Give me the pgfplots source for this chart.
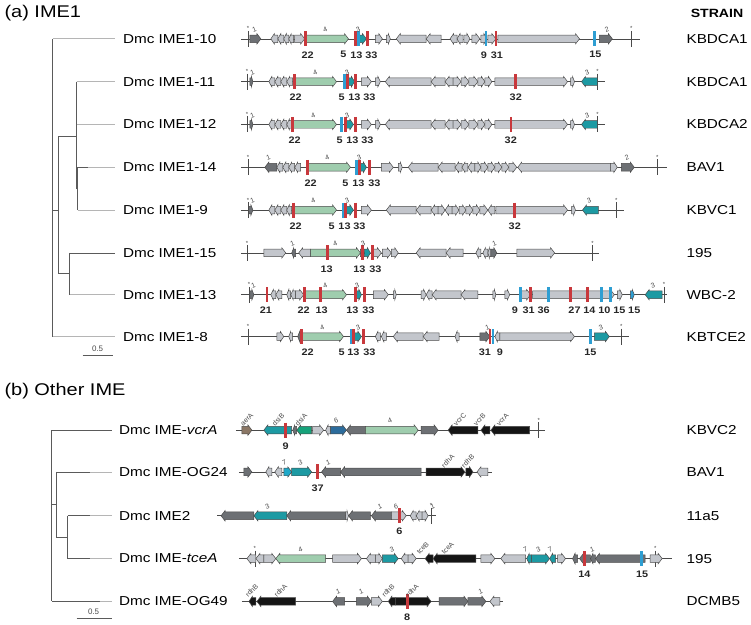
\documentclass[border=0pt]{standalone}
\usepackage{graphicx}
\usepackage{pgfplots}
\pgfplotsset{compat=1.18}
\usepackage{fontspec}
\setmainfont{Liberation Sans}
\definecolor{lg}{HTML}{C3C6CC}
\definecolor{dg}{HTML}{6D7074}
\definecolor{gr}{HTML}{9FCDAE}
\definecolor{tl}{HTML}{1D9AA3}
\definecolor{rb}{HTML}{C8383C}
\definecolor{bb}{HTML}{2E9ED2}
\definecolor{bk}{HTML}{151515}
\definecolor{br}{HTML}{8B7765}
\definecolor{ds}{HTML}{16A27A}
\definecolor{bsix}{HTML}{2C6C9C}
\definecolor{cs}{HTML}{1FA8C8}
\definecolor{ol}{HTML}{4A4A4A}
\definecolor{trd}{HTML}{5A5A5A}
\definecolor{trl}{HTML}{B5B5B5}
\newcommand\sx[1]{\scalebox{1.18}[1]{#1}}
% gene arrows: x1 x2 y colour
\newcommand{\gR}[4]{%
  \pgfmathsetmacro\xa{#1}\pgfmathsetmacro\xb{#2}%
  \pgfmathsetmacro\xh{#2-min(4,(#2-#1)*0.5)}%
  \pgfmathsetmacro\ya{#3-3.8}\pgfmathsetmacro\yb{#3+3.8}%
  \pgfmathsetmacro\yc{#3-5.2}\pgfmathsetmacro\yd{#3+5.2}%
  \edef\gtmp{\noexpand\addplot[fill=#4,draw=ol,line width=0.5pt] coordinates {(\xa,\ya)(\xh,\ya)(\xh,\yc)(\xb,#3)(\xh,\yd)(\xh,\yb)(\xa,\yb)} --cycle;}\gtmp}
\newcommand{\gL}[4]{%
  \pgfmathsetmacro\xa{#1}\pgfmathsetmacro\xb{#2}%
  \pgfmathsetmacro\xh{#1+min(4,(#2-#1)*0.5)}%
  \pgfmathsetmacro\ya{#3-3.8}\pgfmathsetmacro\yb{#3+3.8}%
  \pgfmathsetmacro\yc{#3-5.2}\pgfmathsetmacro\yd{#3+5.2}%
  \edef\gtmp{\noexpand\addplot[fill=#4,draw=ol,line width=0.5pt] coordinates {(\xb,\ya)(\xh,\ya)(\xh,\yc)(\xa,#3)(\xh,\yd)(\xh,\yb)(\xb,\yb)} --cycle;}\gtmp}
% bars: x y colour
\newcommand{\vb}[3]{%
  \pgfmathsetmacro\ya{#2-7.5}\pgfmathsetmacro\yb{#2+7.5}%
  \edef\gtmp{\noexpand\addplot[draw=#3,line width=2.6pt] coordinates {(#1,\ya)(#1,\yb)};}\gtmp}
% backbone
\newcommand{\bl}[3]{\addplot[draw=ol,line width=0.6pt] coordinates {(#1,#3)(#2,#3)};}
% end ticks with asterisk
\newcommand{\tk}[2]{%
  \pgfmathsetmacro\ya{#2-8}\pgfmathsetmacro\yb{#2+8}%
  \edef\gtmp{\noexpand\addplot[draw=ol,line width=0.5pt] coordinates {(#1,\ya)(#1,\yb)};}\gtmp
  \node[font=\fontsize{6}{6}\selectfont,text=ol,yshift=10pt,inner sep=0pt] at (axis cs:#1,#2) {*};}
% number labels below bars
\newcommand{\nl}[3]{\node[font=\fontsize{9.5}{11}\selectfont\bfseries,text=black!85,yshift=-16pt,inner sep=0pt] at (axis cs:#1,#2) {\scalebox{1.15}[1]{#3}};}
% small gene labels above
\newcommand{\gl}[3]{\node[font=\fontsize{7}{8}\selectfont,text=ol,rotate=20,yshift=10pt,inner sep=0pt] at (axis cs:#1,#2) {#3};}
\newcommand{\gn}[3]{\node[font=\fontsize{7}{8}\selectfont,text=ol,rotate=45,anchor=south west,yshift=5pt,inner sep=0pt] at (axis cs:#1,#2) {#3};}
% tree branch
\newcommand{\tb}[5]{\addplot[draw=#5,line width=0.7pt] coordinates {(#1,#2)(#3,#4)};}
\begin{document}
\begin{tikzpicture}
\begin{axis}[width=751pt,height=627pt,scale only axis,xmin=0,xmax=751,ymin=0,ymax=627,
  y dir=reverse,hide axis,clip=false]
\addplot[draw=none] coordinates {(0,0)(751,627)};
% ---------------- titles
\node[anchor=west,font=\fontsize{17}{20}\selectfont] at (axis cs:1,13) {\sx{(a) IME1}};
\node[anchor=west,font=\fontsize{17}{20}\selectfont] at (axis cs:1,393) {\sx{(b) Other IME}};
\node[anchor=east,font=\fontsize{12}{14}\selectfont\bfseries] at (axis cs:750,13) {\sx{STRAIN}};
% ---------------- tree (a)
\tb{53}{39}{53}{338}{trd}
\tb{53}{39}{115}{39}{trl}
\tb{53}{211}{59}{211}{trd}
\tb{59}{137}{59}{275}{trd}
\tb{59}{137}{77}{137}{trd}
\tb{77}{82}{77}{190}{trd}
\tb{77}{190}{78}{190}{trd}
\tb{78}{168}{78}{211}{trd}
\tb{77}{82}{115}{82}{trl}
\tb{77}{125}{115}{125}{trl}
\tb{78}{168}{88}{168}{trd}
\tb{88}{168}{115}{168}{trl}
\tb{78}{211}{115}{211}{trl}
\tb{59}{275}{70}{275}{trd}
\tb{70}{254}{70}{296}{trd}
\tb{70}{254}{115}{254}{trd}
\tb{70}{296}{115}{296}{trl}
\tb{53}{338}{115}{338}{trl}
\tb{83}{357}{113}{357}{trd}
\node[font=\fontsize{8}{9}\selectfont,text=ol] at (axis cs:98,350) {0.5};
% ---------------- tree (b)
\tb{52}{432}{52}{604}{trd}
\tb{52}{432}{112}{432}{trd}
\tb{52}{507}{57}{507}{trd}
\tb{57}{474}{57}{540}{trd}
\tb{57}{474}{90}{474}{trd}
\tb{90}{474}{112}{474}{trl}
\tb{57}{540}{68}{540}{trd}
\tb{68}{518}{68}{561}{trd}
\tb{68}{518}{90}{518}{trd}
\tb{90}{518}{112}{518}{trl}
\tb{68}{561}{90}{561}{trd}
\tb{90}{561}{112}{561}{trl}
\tb{52}{604}{100}{604}{trd}
\tb{100}{604}{112}{604}{trl}
\tb{77}{621}{112}{621}{trd}
\node[font=\fontsize{8}{9}\selectfont,text=ol] at (axis cs:94,614) {0.5};
% ---------------- tip labels (a)
\node[anchor=west,font=\fontsize{13}{15}\selectfont] at (axis cs:120,39) {\sx{Dmc IME1-10}};
\node[anchor=west,font=\fontsize{13}{15}\selectfont] at (axis cs:120,82) {\sx{Dmc IME1-11}};
\node[anchor=west,font=\fontsize{13}{15}\selectfont] at (axis cs:120,125) {\sx{Dmc IME1-12}};
\node[anchor=west,font=\fontsize{13}{15}\selectfont] at (axis cs:120,168) {\sx{Dmc IME1-14}};
\node[anchor=west,font=\fontsize{13}{15}\selectfont] at (axis cs:120,211) {\sx{Dmc IME1-9}};
\node[anchor=west,font=\fontsize{13}{15}\selectfont] at (axis cs:120,254) {\sx{Dmc IME1-15}};
\node[anchor=west,font=\fontsize{13}{15}\selectfont] at (axis cs:120,296) {\sx{Dmc IME1-13}};
\node[anchor=west,font=\fontsize{13}{15}\selectfont] at (axis cs:120,338) {\sx{Dmc IME1-8}};
% tip labels (b)
\node[anchor=west,font=\fontsize{13}{15}\selectfont] at (axis cs:116,432) {\sx{Dmc IME-\textit{vcrA}}};
\node[anchor=west,font=\fontsize{13}{15}\selectfont] at (axis cs:116,474) {\sx{Dmc IME-OG24}};
\node[anchor=west,font=\fontsize{13}{15}\selectfont] at (axis cs:116,518) {\sx{Dmc IME2}};
\node[anchor=west,font=\fontsize{13}{15}\selectfont] at (axis cs:116,561) {\sx{Dmc IME-\textit{tceA}}};
\node[anchor=west,font=\fontsize{13}{15}\selectfont] at (axis cs:116,604) {\sx{Dmc IME-OG49}};
% strains
\node[anchor=west,font=\fontsize{13}{15}\selectfont] at (axis cs:686,39) {\sx{KBDCA1}};
\node[anchor=west,font=\fontsize{13}{15}\selectfont] at (axis cs:686,82) {\sx{KBDCA1}};
\node[anchor=west,font=\fontsize{13}{15}\selectfont] at (axis cs:686,125) {\sx{KBDCA2}};
\node[anchor=west,font=\fontsize{13}{15}\selectfont] at (axis cs:686,168) {\sx{BAV1}};
\node[anchor=west,font=\fontsize{13}{15}\selectfont] at (axis cs:686,211) {\sx{KBVC1}};
\node[anchor=west,font=\fontsize{13}{15}\selectfont] at (axis cs:686,254) {\sx{195}};
\node[anchor=west,font=\fontsize{13}{15}\selectfont] at (axis cs:686,296) {\sx{WBC-2}};
\node[anchor=west,font=\fontsize{13}{15}\selectfont] at (axis cs:686,338) {\sx{KBTCE2}};
\node[anchor=west,font=\fontsize{13}{15}\selectfont] at (axis cs:686,432) {\sx{KBVC2}};
\node[anchor=west,font=\fontsize{13}{15}\selectfont] at (axis cs:686,474) {\sx{BAV1}};
\node[anchor=west,font=\fontsize{13}{15}\selectfont] at (axis cs:686,518) {\sx{11a5}};
\node[anchor=west,font=\fontsize{13}{15}\selectfont] at (axis cs:686,561) {\sx{195}};
\node[anchor=west,font=\fontsize{13}{15}\selectfont] at (axis cs:686,604) {\sx{DCMB5}};
% ================= ROW A1 IME1-10 (y=39)
\bl{242}{643}{39}\tk{249}{39}\tk{634}{39}
\gR{251}{262}{39}{dg}
\gL{272}{279}{39}{lg}\gL{279}{285}{39}{lg}\gL{285}{290}{39}{lg}\gL{290}{295}{39}{lg}
\gR{296}{306}{39}{lg}\gR{308}{350}{39}{gr}\gR{360}{368}{39}{tl}
\gR{377}{384}{39}{lg}\gR{388}{392}{39}{lg}
\gL{398}{428}{39}{lg}\gL{428}{443}{39}{lg}
\gL{452}{459}{39}{lg}\gL{459}{465}{39}{lg}\gR{466}{472}{39}{lg}\gR{474}{482}{39}{lg}\gR{483}{489}{39}{lg}\gR{490}{498}{39}{lg}
\gR{500}{582}{39}{lg}\gR{602}{615}{39}{dg}
\vb{307}{39}{rb}\vb{357}{39}{rb}\vb{360}{39}{bb}\vb{369}{39}{rb}\vb{488}{39}{bb}\vb{498}{39}{rb}\vb{597}{39}{bb}
\nl{309}{39}{22}\nl{345}{39}{5}\nl{358}{39}{13}\nl{373}{39}{33}\nl{486}{39}{9}\nl{499}{39}{31}\nl{598}{39}{15}
\gl{259}{39}{1}\gl{330}{39}{4}\gl{363}{39}{3}\gl{613}{39}{2}
% ================= ROW A2 IME1-11 (y=82)
\bl{242}{608}{82}\tk{248}{82}\tk{600}{82}
\gR{251}{254}{82}{dg}
\gL{270}{276}{82}{lg}\gL{276}{282}{82}{lg}\gL{282}{288}{82}{lg}\gL{288}{294}{82}{lg}
\gR{297}{338}{82}{gr}\gR{350}{356}{82}{tl}
\gR{363}{373}{82}{lg}\gR{377}{382}{82}{lg}
\gL{387}{433}{82}{lg}\gL{433}{447}{82}{lg}\gL{447}{455}{82}{lg}\gR{455}{463}{82}{lg}\gR{463}{471}{82}{lg}\gR{471}{480}{82}{lg}\gR{480}{487}{82}{lg}\gR{487}{494}{82}{lg}
\gR{497}{570}{82}{lg}\gR{573}{577}{82}{lg}\gL{584}{600}{82}{tl}
\vb{296}{82}{rb}\vb{346}{82}{bb}\vb{349}{82}{rb}\vb{357}{82}{rb}\vb{518}{82}{rb}
\nl{297}{82}{22}\nl{343}{82}{5}\nl{356}{82}{13}\nl{371}{82}{33}\nl{518}{82}{32}
\gl{257}{82}{1}\gl{320}{82}{4}\gl{352}{82}{3}\gl{593}{82}{3}
% ================= ROW A3 IME1-12 (y=125)
\bl{242}{608}{125}\tk{248}{125}\tk{600}{125}
\gR{251}{254}{125}{dg}
\gL{270}{276}{125}{lg}\gL{276}{282}{125}{lg}\gL{282}{288}{125}{lg}\gL{288}{293}{125}{lg}
\gR{295}{338}{125}{gr}\gR{348}{355}{125}{tl}
\gR{363}{373}{125}{lg}\gR{377}{382}{125}{lg}
\gL{387}{433}{125}{lg}\gL{433}{447}{125}{lg}\gL{447}{455}{125}{lg}\gR{455}{463}{125}{lg}\gR{463}{471}{125}{lg}\gR{471}{480}{125}{lg}\gR{480}{487}{125}{lg}\gR{487}{494}{125}{lg}
\gR{497}{570}{125}{lg}\gR{573}{577}{125}{lg}\gL{584}{600}{125}{tl}
\vb{294}{125}{rb}\vb{343}{125}{bb}\vb{347}{125}{rb}\vb{357}{125}{rb}\vb{513}{125}{rb}
\nl{296}{125}{22}\nl{341}{125}{5}\nl{354}{125}{13}\nl{369}{125}{33}\nl{513}{125}{32}
\gl{257}{125}{1}\gl{318}{125}{4}\gl{352}{125}{3}\gl{593}{125}{3}
% ================= ROW A4 IME1-14 (y=168)
\bl{242}{670}{168}\tk{249}{168}\tk{660}{168}
\gL{266}{278}{168}{dg}
\gL{278}{284}{168}{lg}\gL{284}{290}{168}{lg}\gL{290}{296}{168}{lg}\gL{296}{302}{168}{lg}
\gR{310}{352}{168}{gr}\gR{362}{368}{168}{tl}
\gR{383}{395}{168}{lg}\gR{400}{404}{168}{lg}
\gL{410}{440}{168}{lg}\gL{440}{457}{168}{lg}\gL{457}{464}{168}{lg}\gL{464}{470}{168}{lg}\gL{470}{477}{168}{lg}\gR{477}{483}{168}{lg}\gR{483}{490}{168}{lg}\gR{490}{497}{168}{lg}\gR{497}{504}{168}{lg}\gR{504}{511}{168}{lg}\gR{511}{519}{168}{lg}
\gL{520}{613}{168}{lg}\gR{613}{620}{168}{lg}\gR{624}{637}{168}{dg}
\vb{309}{168}{rb}\vb{358}{168}{bb}\vb{361}{168}{rb}\vb{371}{168}{rb}
\nl{312}{168}{22}\nl{347}{168}{5}\nl{360}{168}{13}\nl{376}{168}{33}
\gl{273}{168}{1}\gl{332}{168}{4}\gl{364}{168}{3}\gl{633}{168}{2}
% ================= ROW A5 IME1-9 (y=211)
\bl{242}{627}{211}\tk{249}{211}\tk{619}{211}
\gR{250}{254}{211}{dg}
\gL{270}{276}{211}{lg}\gL{276}{282}{211}{lg}\gL{282}{288}{211}{lg}\gL{288}{293}{211}{lg}
\gR{296}{338}{211}{gr}\gR{348}{355}{211}{tl}
\gR{363}{373}{211}{lg}
\gL{388}{418}{211}{lg}\gL{418}{433}{211}{lg}\gL{433}{440}{211}{lg}\gR{440}{447}{211}{lg}\gL{447}{454}{211}{lg}\gR{454}{461}{211}{lg}\gR{461}{468}{211}{lg}\gR{468}{475}{211}{lg}\gR{475}{482}{211}{lg}\gR{482}{490}{211}{lg}\gL{490}{497}{211}{lg}
\gR{498}{570}{211}{lg}\gR{574}{578}{211}{lg}\gL{585}{601}{211}{tl}
\vb{295}{211}{rb}\vb{345}{211}{bb}\vb{347}{211}{rb}\vb{357}{211}{rb}\vb{517}{211}{rb}
\nl{297}{211}{22}\nl{333}{211}{5}\nl{346}{211}{13}\nl{361}{211}{33}\nl{517}{211}{32}
\gl{257}{211}{1}\gl{318}{211}{4}\gl{352}{211}{3}\gl{595}{211}{3}
% ================= ROW A6 IME1-15 (y=254)
\bl{242}{602}{254}\tk{248}{254}\tk{595}{254}
\gR{265}{287}{254}{lg}\gL{293}{297}{254}{dg}\gL{300}{312}{254}{lg}
\gR{312}{362}{254}{gr}\gR{362}{366}{254}{dg}\gR{366}{372}{254}{tl}
\gR{375}{383}{254}{lg}\gR{384}{393}{254}{lg}\gR{393}{400}{254}{lg}
\gL{418}{448}{254}{lg}\gL{448}{465}{254}{lg}\gL{478}{483}{254}{lg}\gL{485}{490}{254}{lg}\gL{490}{493}{254}{lg}\gR{493}{499}{254}{dg}
\gR{519}{557}{254}{lg}
\vb{329}{254}{rb}\vb{364}{254}{rb}\vb{374}{254}{rb}
\nl{328}{254}{13}\nl{361}{254}{13}\nl{377}{254}{33}
\gl{297}{254}{1}\gl{340}{254}{4}\gl{368}{254}{3}\gl{500}{254}{1}
% ================= ROW A7 IME1-13 (y=296)
\bl{242}{670}{296}\tk{250}{296}\tk{667}{296}
\gR{251}{255}{296}{dg}
\gL{272}{277}{296}{lg}\gL{277}{283}{296}{lg}\gL{288}{292}{296}{lg}\gL{292}{297}{296}{lg}\gR{297}{305}{296}{lg}
\gR{307}{348}{296}{gr}\gR{358}{363}{296}{tl}
\gR{375}{390}{296}{lg}\gR{395}{398}{296}{lg}
\gR{423}{428}{296}{lg}\gL{428}{434}{296}{lg}\gL{434}{463}{296}{lg}\gL{463}{480}{296}{lg}
\gR{495}{498}{296}{lg}\gR{507}{512}{296}{lg}
\gR{523}{533}{296}{lg}\gR{535}{617}{296}{lg}\gR{620}{625}{296}{lg}
\gR{633}{637}{296}{bb}\gL{648}{665}{296}{tl}
\vb{268}{296}{rb}\vb{306}{296}{rb}\vb{322}{296}{rb}\vb{357}{296}{rb}\vb{366}{296}{rb}
\vb{523}{296}{bb}\vb{533}{296}{rb}\vb{551}{296}{bb}\vb{573}{296}{rb}\vb{590}{296}{rb}\vb{604}{296}{bb}\vb{613}{296}{bb}
\nl{267}{296}{21}\nl{305}{296}{22}\nl{323}{296}{13}\nl{354}{296}{13}\nl{370}{296}{33}
\nl{517}{296}{9}\nl{531}{296}{31}\nl{546}{296}{36}\nl{577}{296}{27}\nl{592}{296}{14}\nl{607}{296}{10}\nl{622}{296}{15}\nl{637}{296}{15}
\gl{258}{296}{1}\gl{330}{296}{4}\gl{362}{296}{3}\gl{659}{296}{3}
% ================= ROW A8 IME1-8 (y=338)
\bl{242}{632}{338}\tk{249}{338}\tk{624}{338}
\gR{278}{285}{338}{lg}\gL{290}{294}{338}{lg}\gL{299}{303}{338}{dg}
\gR{304}{345}{338}{gr}\gR{356}{363}{338}{tl}
\gL{377}{382}{338}{lg}\gL{383}{388}{338}{lg}\gL{395}{425}{338}{lg}\gL{425}{441}{338}{lg}\gL{457}{461}{338}{lg}
\gR{482}{492}{338}{dg}\gL{497}{502}{338}{lg}\gR{502}{577}{338}{lg}\gR{597}{612}{338}{tl}
\vb{303}{338}{rb}\vb{353}{338}{bb}\vb{355}{338}{rb}\vb{365}{338}{rb}\vb{492}{338}{rb}\vb{495}{338}{bb}\vb{593}{338}{bb}
\nl{309}{338}{22}\nl{343}{338}{5}\nl{355}{338}{13}\nl{371}{338}{33}\nl{487}{338}{31}\nl{502}{338}{9}\nl{593}{338}{15}
\gl{327}{338}{4}\gl{363}{338}{3}\gl{493}{338}{1}\gl{607}{338}{3}
% ================= ROW B1 vcrA (y=432)
\bl{237}{547}{432}\tk{541}{432}
\gR{243}{253}{432}{br}\gL{265}{293}{432}{tl}\gL{294}{298}{432}{dg}\gL{298}{313}{432}{ds}\gR{314}{325}{432}{lg}
\gL{327}{332}{432}{lg}\gR{332}{348}{432}{bsix}\gL{348}{367}{432}{dg}\gR{367}{420}{432}{gr}\gR{423}{440}{432}{dg}
\gL{450}{480}{432}{bk}\gL{483}{492}{432}{bk}\gL{493}{532}{432}{bk}
\vb{287}{432}{rb}
\nl{287}{432}{9}
\gn{248}{432}{aerA}\gn{280}{432}{dsiB}\gn{303}{432}{dsiA}\gl{341}{432}{6}\gl{395}{432}{4}
\gn{462}{432}{vcrC}\gn{482}{432}{vcrB}\gn{505}{432}{vcrA}
% ================= ROW B2 OG24 (y=474)
\bl{240}{494}{474}
\gR{245}{253}{474}{dg}\gL{267}{273}{474}{lg}\gL{276}{283}{474}{lg}\gR{285}{293}{474}{cs}\gR{293}{313}{474}{tl}
\gL{323}{342}{474}{dg}\gL{342}{423}{474}{dg}\gR{428}{467}{474}{bk}\gR{468}{475}{474}{bk}\gL{479}{490}{474}{lg}
\vb{319}{474}{rb}
\nl{319}{474}{37}
\gl{289}{474}{7}\gl{305}{474}{3}\gl{333}{474}{1}\gn{450}{474}{rdhA}\gn{470}{474}{rdhB}
% ================= ROW B3 IME2 (y=518)
\bl{218}{438}{518}\tk{433}{518}
\gL{222}{255}{518}{dg}\gL{255}{288}{518}{tl}\gL{288}{347}{518}{dg}\gR{347}{350}{518}{lg}
\gL{350}{372}{518}{dg}\gL{373}{393}{518}{dg}\gR{393}{408}{518}{lg}
\gL{412}{418}{518}{lg}\gL{418}{424}{518}{lg}\gR{424}{430}{518}{lg}
\vb{401}{518}{rb}
\nl{401}{518}{6}
\gl{272}{518}{3}\gl{385}{518}{1}\gl{401}{518}{6}\gl{438}{518}{1}
% ================= ROW B4 tceA (y=561)
\bl{240}{675}{561}\tk{256}{561}\tk{658}{561}
\gL{248}{257}{561}{lg}\gL{257}{265}{561}{lg}\gR{265}{277}{561}{lg}\gL{277}{327}{561}{gr}\gR{334}{363}{561}{lg}
\gL{368}{377}{561}{lg}\gR{377}{384}{561}{lg}\gR{384}{400}{561}{tl}\gL{403}{410}{561}{lg}\gR{410}{418}{561}{lg}
\gL{427}{435}{561}{bk}\gL{435}{478}{561}{bk}\gR{483}{497}{561}{lg}\gL{503}{528}{561}{lg}
\gL{529}{534}{561}{tl}\gR{534}{552}{561}{tl}\gL{552}{558}{561}{tl}\gR{560}{568}{561}{lg}
\gL{575}{580}{561}{dg}\gL{582}{593}{561}{dg}\gL{593}{598}{561}{dg}\gL{598}{648}{561}{dg}\gR{653}{665}{561}{lg}
\vb{587}{561}{rb}\vb{644}{561}{bb}
\nl{587}{561}{14}\nl{645}{561}{15}
\gl{305}{561}{4}\gl{397}{561}{3}\gn{425}{561}{tceB}\gn{450}{561}{tceA}\gl{531}{561}{7}\gl{544}{561}{3}\gl{556}{561}{7}\gl{598}{561}{1}
% ================= ROW B5 OG49 (y=604)
\bl{243}{505}{604}
\gL{250}{257}{604}{bk}\gL{258}{297}{604}{bk}\gL{334}{346}{604}{dg}\gR{358}{373}{604}{dg}\gR{373}{384}{604}{lg}
\gL{390}{397}{604}{bk}\gR{397}{433}{604}{bk}\gR{441}{470}{604}{dg}\gR{470}{488}{604}{dg}\gL{492}{502}{604}{lg}
\vb{409}{604}{rb}
\nl{409}{604}{8}
\gn{253}{604}{rdhB}\gn{282}{604}{rdhA}\gl{343}{604}{1}\gl{366}{604}{1}\gn{390}{604}{rdhB}\gn{414}{604}{rdhA}\gl{486}{604}{1}
\end{axis}
\end{tikzpicture}
\end{document}
